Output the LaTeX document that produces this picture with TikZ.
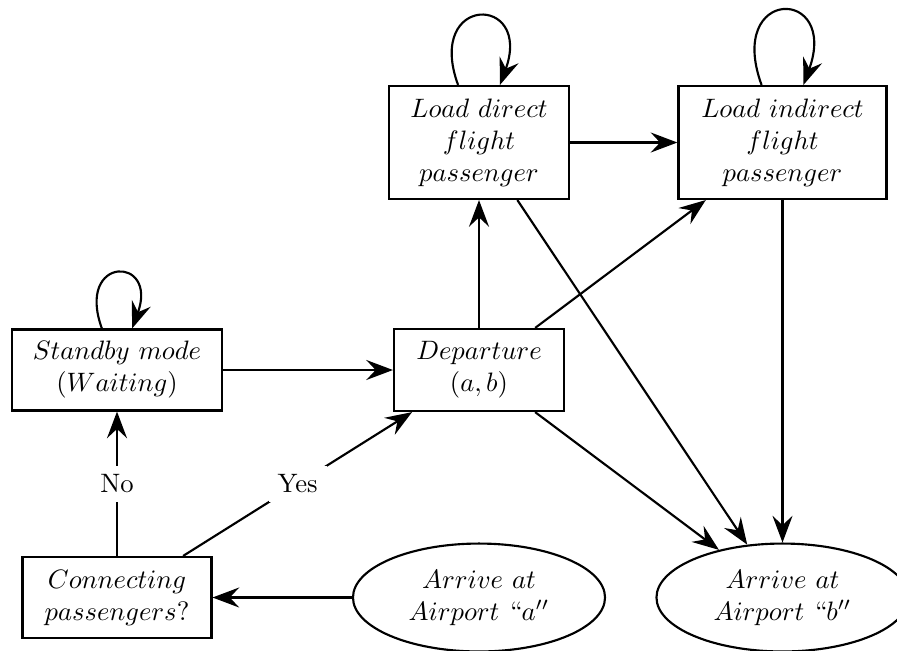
\documentclass[tikz,border=0pt]{standalone}
\usetikzlibrary{arrows.meta,shapes.geometric,calc}
\begin{document}
\begin{tikzpicture}[x=0.3753pt,y=0.3753pt,line width=0.8pt,
  box/.style={draw, rectangle, align=center, inner sep=2pt},
  oval/.style={draw, ellipse, align=center, inner sep=2pt, minimum width=94.6pt, minimum height=40.5pt},
  arr/.style={-{Stealth[length=10pt,width=7.5pt,inset=3.5pt]}},
  lbl/.style={fill=white, inner sep=3.33pt}]
\useasboundingbox (0,0) rectangle (897,-650);
\node[box, minimum width=78.8pt, minimum height=30.4pt] (standby) at (117,-370) {$Standby\ mode$\\$(Waiting)$};
\node[box, minimum width=63.8pt, minimum height=30.8pt] (dep) at (479,-370) {$Departure$\\$(a,b)$};
\node[box, minimum width=67.6pt, minimum height=42.4pt] (direct) at (479,-142.5) {$Load\ direct$\\$flight$\\$passenger$};
\node[box, minimum width=78.1pt, minimum height=42.4pt] (indirect) at (782.5,-142.5) {$Load\ indirect$\\$flight$\\$passenger$};
\node[box, minimum width=70.9pt, minimum height=30.4pt] (conn) at (117,-597.5) {$Connecting$\\$passengers?$};
\node[oval] (arra) at (479,-597.5) {$Arrive\ at$\\$Airport\ ``a''$};
\node[oval] (arrb) at (782.5,-597.5) {$Arrive\ at$\\$Airport\ ``b''$};
% loops
\draw[arr] (standby.110) .. controls +(110:78) and +(70:78) .. (standby.70);
\draw[arr] (direct.110) .. controls +(110:97) and +(70:97) .. (direct.70);
\draw[arr] (indirect.110) .. controls +(110:105) and +(70:105) .. (indirect.70);
% connectors
\draw[arr] (standby) -- (dep);
\draw[arr] (dep) -- (direct);
\draw[arr] (direct) -- (indirect);
\draw[arr] (dep) -- (indirect);
\draw[arr] (direct) -- (arrb);
\draw[arr] (dep) -- (arrb);
\draw[arr] (indirect) -- (arrb);
\draw[arr] (arra) -- (conn);
\draw[arr] (conn) -- node[lbl] {No} (standby);
\draw[arr] (conn) -- node[lbl] {Yes} (dep);
\end{tikzpicture}
\end{document}
